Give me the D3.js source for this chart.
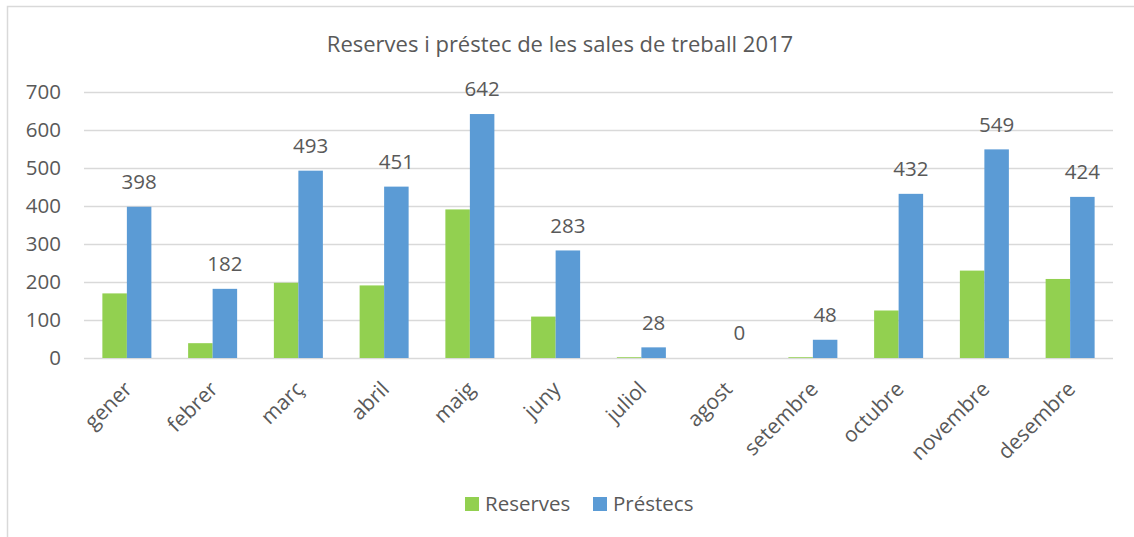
<!DOCTYPE html>
<html>
<head>
<meta charset="utf-8">
<script src="https://cdn.jsdelivr.net/npm/d3@7"></script>
<style>
  body { margin: 0; background: #fff; }
  text { font-family: "Open Sans", sans-serif; fill: #595959; }
</style>
</head>
<body>
<div id="chart"></div>
<script>
var months = ["gener","febrer","març","abril","maig","juny","juliol","agost","setembre","octubre","novembre","desembre"];
var reserves = [170, 39, 198, 191, 391, 109, 2, 0, 2, 125, 230, 208];
var prestecs = [398, 182, 493, 451, 642, 283, 28, 0, 48, 432, 549, 424];
var yTicks = [0, 100, 200, 300, 400, 500, 600, 700];
var seriesNames = ["Reserves", "Préstecs"];
var colors = ["#92D050", "#5B9BD5"];

var width = 1134, height = 537;
var svg = d3.select("#chart").append("svg").attr("width", width).attr("height", height);

// chart frame
svg.append("rect").attr("x", 7.5).attr("y", 6.5).attr("width", 1140).attr("height", 540)
  .attr("fill", "none").attr("stroke", "#D9D9D9").attr("stroke-width", 1.5);

svg.append("text").attr("x", 560).attr("y", 52).attr("text-anchor", "middle")
  .style("font-size", "22px").text("Reserves i préstec de les sales de treball 2017");

var x = d3.scaleBand().domain(months).range([84, 1113]);
var xs = d3.scaleBand().domain(seriesNames).range([0, x.bandwidth()]).paddingInner(0).paddingOuter(0.75);
var y = d3.scaleLinear().domain([0, 700]).range([358, 92]);

// gridlines
svg.append("g").selectAll("line").data(yTicks).join("line")
  .attr("x1", 84).attr("x2", 1113)
  .attr("y1", d => Math.round(y(d)) + 0.5).attr("y2", d => Math.round(y(d)) + 0.5)
  .attr("stroke", "#D9D9D9").attr("stroke-width", 1.5);

// y axis labels
svg.append("g").selectAll("text").data(yTicks).join("text")
  .attr("x", 61).attr("y", d => y(d)).attr("dy", "0.36em").attr("text-anchor", "end")
  .style("font-size", "20.5px").text(d => d);

var rows = months.map((m, i) => ({month: m, values: [reserves[i], prestecs[i]]}));

var groups = svg.append("g").selectAll("g").data(rows).join("g")
  .attr("transform", d => `translate(${x(d.month)},0)`);

groups.selectAll("rect").data(d => d.values.map((v, j) => ({key: seriesNames[j], value: v, color: colors[j]})))
  .join("rect")
  .attr("x", d => xs(d.key)).attr("width", xs.bandwidth())
  .attr("y", d => y(d.value)).attr("height", d => y(0) - y(d.value))
  .attr("fill", d => d.color);

// data labels on Préstecs
groups.append("text")
  .attr("x", xs("Préstecs") + xs.bandwidth() / 2)
  .attr("y", d => y(d.values[1]) - 25).attr("dy", "0.36em")
  .attr("text-anchor", "middle").style("font-size", "20.5px")
  .text(d => d.values[1]);

// x axis labels
svg.append("g").selectAll("text").data(months).join("text")
  .attr("transform", d => `translate(${x(d) + x.bandwidth() / 2 - 4},${380}) rotate(-45)`)
  .attr("text-anchor", "end").attr("dy", "0.7em")
  .style("font-size", "21px").text(d => d);

// legend
var legend = svg.append("g").selectAll("g").data(seriesNames).join("g")
  .attr("transform", (d, i) => `translate(${i === 0 ? 465 : 593},497)`);
legend.append("rect").attr("width", 14).attr("height", 14).attr("fill", (d, i) => colors[i]);
legend.append("text").attr("x", 20).attr("y", 7).attr("dy", "0.36em")
  .style("font-size", "20.5px").text(d => d);
</script>
</body>
</html>
